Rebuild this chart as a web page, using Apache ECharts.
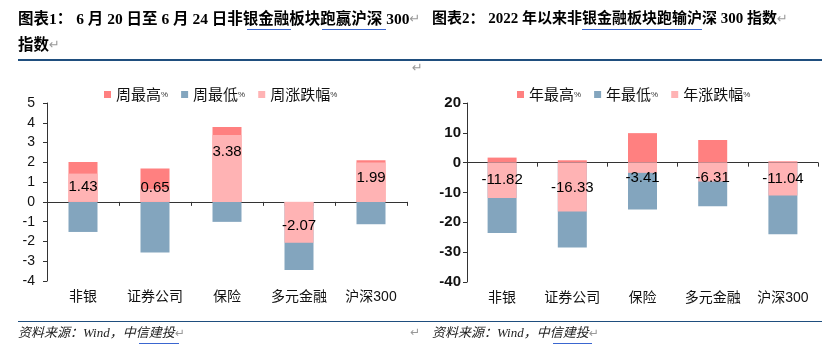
<!DOCTYPE html>
<html>
<head>
<meta charset="utf-8">
<script src="https://cdn.jsdelivr.net/npm/echarts@6/dist/echarts.min.js"></script>
<style>
html,body{margin:0;padding:0;background:#fff;}
#c{width:823px;height:359px;}
</style>
</head>
<body>
<div id="c"></div>
<script>
// ---- data ----
const categories = ['非银', '证券公司', '保险', '多元金融', '沪深300'];
const weekHigh = [2.02, 1.69, 3.79, -0.21, 2.11];
const weekLow = [-1.52, -2.56, -1.01, -3.45, -1.13];
const weekChg = [1.43, 0.65, 3.38, -2.07, 1.99];
const yearHigh = [1.7, 0.8, 9.9, 7.6, 0.45];
const yearLow = [-23.6, -28.4, -15.7, -14.6, -24.0];
const yearChg = [-11.82, -16.33, -3.41, -6.31, -11.04];
const weekNames = ['周最高%', '周最低%', '周涨跌幅%'];
const yearNames = ['年最高%', '年最低%', '年涨跌幅%'];
const title1a = '图表1： 6 月 20 日至 6 月 24 日非银金融板块跑赢沪深 300';
const title1b = '指数';
const title2 = '图表2： 2022 年以来非银金融板块跑输沪深 300 指数';
const source = '资料来源：Wind，中信建投';

// ---- styling ----
const C_HIGH = '#FF8080', C_LOW = '#83A5BE', C_CHG = '#FFB3B4';
const SANS = "'Liberation Sans','Noto Sans CJK SC',sans-serif";
const SERIF = "'Liberation Serif','Noto Sans CJK SC',serif";
const AX = '#333';
const weekOffsets = [[0, -1], [0, -8], [0, -17], [0, 4], [0, -4]];
const yearOffsets = [[0, 0], [0, 1], [0, 10], [0, 6], [0, 0]];

function chgData(vals, offs) {
  return vals.map((v, i) => ({ value: v, label: { offset: offs[i] } }));
}
function legendCfg(names, left) {
  return {
    data: names, left: left, top: 82, icon: 'rect', itemWidth: 7, itemHeight: 7, itemGap: 13,
    formatter: n => '{a|' + n.slice(0, -1) + '}{p|%}',
    textStyle: { color: '#111', rich: { a: { fontSize: 15, fontFamily: "'Noto Sans CJK SC'" , color:'#111'}, p: { fontSize: 8, color: '#333' } } }
  };
}
function xAxes(g) {
  return [
    { type: 'category', gridIndex: g, data: categories,
      axisLine: { onZero: true, lineStyle: { color: AX, width: 1 } },
      axisTick: { show: true, length: 4, lineStyle: { color: AX } },
      axisLabel: { show: false } },
    { type: 'category', gridIndex: g, data: categories, position: 'bottom',
      axisLine: { show: false, onZero: false }, axisTick: { show: false },
      axisLabel: { interval: 0, margin: 9, fontSize: 14, color: '#111', fontFamily: SANS } }
  ];
}
const labelBase = { show: true, position: 'inside', color: '#000', fontSize: 15, fontFamily: SANS,
  formatter: p => Number(p.value).toFixed(2) };

const option = {
  animation: false,
  backgroundColor: '#fff',
  textStyle: { fontFamily: SANS },
  grid: [
    { left: 47, right: 416, top: 103, bottom: 78 },
    { left: 467, right: 5, top: 103, bottom: 77 }
  ],
  legend: [legendCfg(weekNames, 99), legendCfg(yearNames, 512)],
  xAxis: xAxes(0).concat(xAxes(1)),
  yAxis: [
    { type: 'value', gridIndex: 0, min: -4, max: 5, interval: 1,
      axisLine: { show: true, lineStyle: { color: AX } },
      axisTick: { show: true, length: 4, lineStyle: { color: AX } },
      splitLine: { show: false },
      axisLabel: { fontSize: 14, color: '#111', margin: 12 } },
    { type: 'value', gridIndex: 1, min: -40, max: 20, interval: 10,
      axisLine: { show: true, lineStyle: { color: AX } },
      axisTick: { show: true, length: 4, lineStyle: { color: AX } },
      splitLine: { show: false },
      axisLabel: { fontSize: 15, fontWeight: 'bold', color: '#111', margin: 6 } }
  ],
  series: [
    { name: weekNames[0], type: 'bar', xAxisIndex: 0, yAxisIndex: 0, data: weekHigh, barWidth: 29, barGap: '-100%', itemStyle: { color: C_HIGH } },
    { name: weekNames[1], type: 'bar', xAxisIndex: 0, yAxisIndex: 0, data: weekLow, barWidth: 29, barGap: '-100%', itemStyle: { color: C_LOW } },
    { name: weekNames[2], type: 'bar', xAxisIndex: 0, yAxisIndex: 0, data: chgData(weekChg, weekOffsets), barWidth: 29, barGap: '-100%', itemStyle: { color: C_CHG }, label: labelBase },
    { name: yearNames[0], type: 'bar', xAxisIndex: 2, yAxisIndex: 1, data: yearHigh, barWidth: 29, barGap: '-100%', itemStyle: { color: C_HIGH } },
    { name: yearNames[1], type: 'bar', xAxisIndex: 2, yAxisIndex: 1, data: yearLow, barWidth: 29, barGap: '-100%', itemStyle: { color: C_LOW } },
    { name: yearNames[2], type: 'bar', xAxisIndex: 2, yAxisIndex: 1, data: chgData(yearChg, yearOffsets), barWidth: 29, barGap: '-100%', itemStyle: { color: C_CHG }, label: labelBase }
  ],
  graphic: [
    { type: 'text', left: 18, top: 12, style: { text: title1a + '{m|↵}', font: 'bold 15.5px ' + SERIF, fill: '#000',
        rich: { m: { fill: '#999', font: '13px DejaVu Sans' } } } },
    { type: 'text', left: 18, top: 38, style: { text: title1b + '{m|↵}', font: 'bold 15.5px ' + SERIF, fill: '#000',
        rich: { m: { fill: '#999', font: '13px DejaVu Sans' } } } },
    { type: 'text', left: 432, top: 12, style: { text: title2 + '{m|↵}', font: 'bold 15px ' + SERIF, fill: '#000',
        rich: { m: { fill: '#999', font: '13px DejaVu Sans' } } } },
    { type: 'line', shape: { x1: 247, y1: 29.5, x2: 291, y2: 29.5 }, style: { stroke: '#3A66D0', lineWidth: 1.2 } },
    { type: 'line', shape: { x1: 322, y1: 29.5, x2: 386, y2: 29.5 }, style: { stroke: '#3A66D0', lineWidth: 1.2 } },
    { type: 'line', shape: { x1: 582, y1: 29.5, x2: 702, y2: 29.5 }, style: { stroke: '#3A66D0', lineWidth: 1.2 } },
    { type: 'line', shape: { x1: 18, y1: 60, x2: 822, y2: 60 }, style: { stroke: '#1F4E7E', lineWidth: 2 } },
    { type: 'line', shape: { x1: 18, y1: 321.5, x2: 822, y2: 321.5 }, style: { stroke: '#1F4E7E', lineWidth: 1 } },
    { type: 'text', left: 412, top: 62, style: { text: '↵', font: '13px DejaVu Sans', fill: '#999' } },
    { type: 'text', left: 18, top: 327, style: { text: source + '{m|↵}', font: 'italic 13px ' + SERIF, fill: '#222',
        rich: { m: { fill: '#999', font: '12px DejaVu Sans' } } } },
    { type: 'text', left: 410, top: 327, style: { text: '↵', font: '12px DejaVu Sans', fill: '#999' } },
    { type: 'text', left: 432, top: 327, style: { text: source + '{m|↵}', font: 'italic 13px ' + SERIF, fill: '#222',
        rich: { m: { fill: '#999', font: '12px DejaVu Sans' } } } },
    { type: 'line', shape: { x1: 139, y1: 343.5, x2: 179, y2: 343.5 }, style: { stroke: '#3A66D0', lineWidth: 1.2 } },
    { type: 'line', shape: { x1: 553, y1: 343.5, x2: 592, y2: 343.5 }, style: { stroke: '#3A66D0', lineWidth: 1.2 } }
  ]
};
const chart = echarts.init(document.getElementById('c'), null, { renderer: 'canvas' });
chart.setOption(option);
</script>
</body>
</html>
